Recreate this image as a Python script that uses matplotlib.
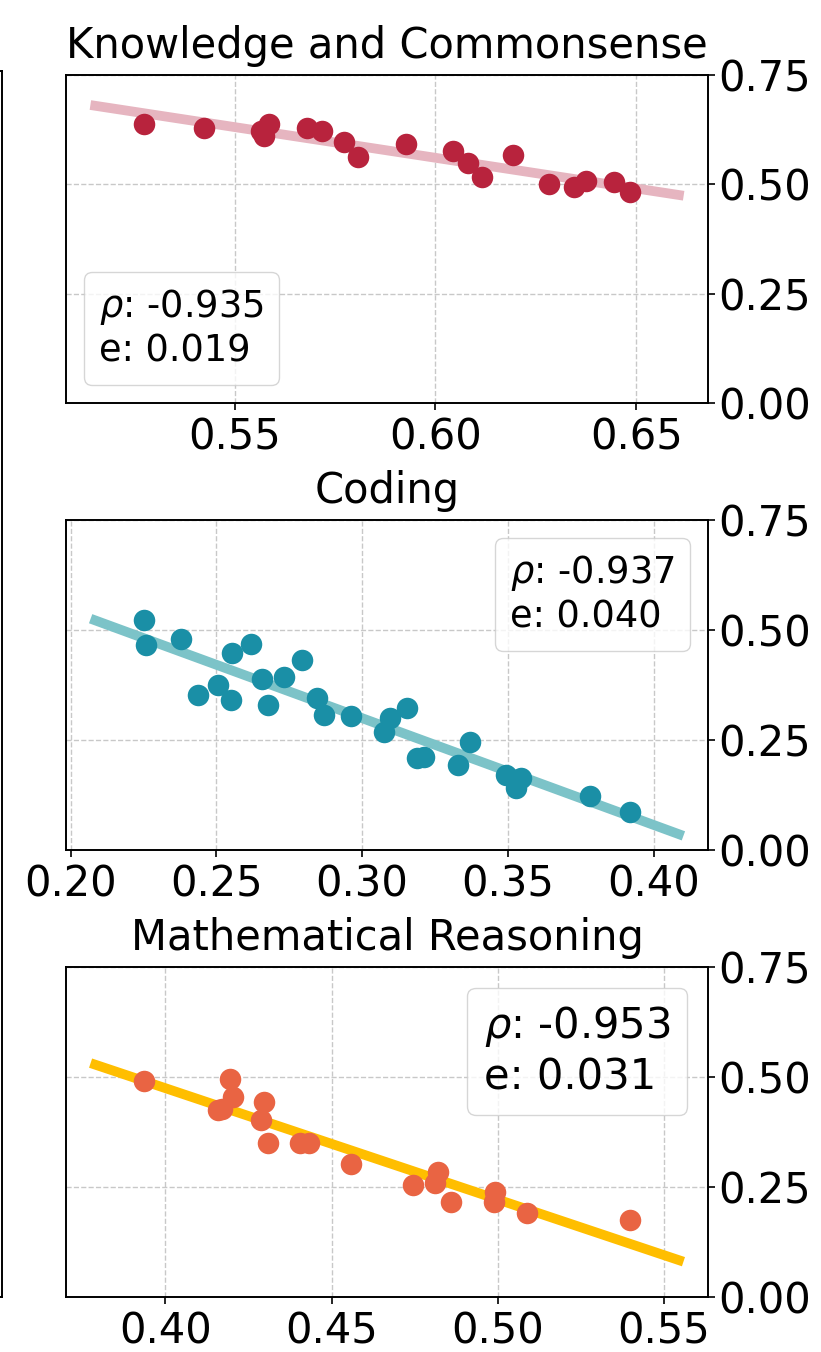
import numpy as np
import matplotlib
matplotlib.use('Agg')
import matplotlib.pyplot as plt
from matplotlib.lines import Line2D
from matplotlib.ticker import MultipleLocator

# knowledge and commonsense
know_x = [0.5274, 0.5424, 0.5565, 0.5572, 0.5585, 0.5680, 0.5718, 0.5772, 0.5807,
          0.5927, 0.6044, 0.6081, 0.6115, 0.6194, 0.6282, 0.6345, 0.6374, 0.6445, 0.6485]
know_y = [0.638, 0.630, 0.622, 0.610, 0.638, 0.630, 0.623, 0.596, 0.562,
          0.592, 0.577, 0.548, 0.516, 0.567, 0.500, 0.493, 0.508, 0.506, 0.483]

# coding
code_x = [0.2251, 0.2259, 0.2379, 0.2437, 0.2506, 0.2552, 0.2549, 0.2618, 0.2655,
          0.2678, 0.2732, 0.2793, 0.2845, 0.2868, 0.2963, 0.3075, 0.3095, 0.3155,
          0.3190, 0.3213, 0.3330, 0.3370, 0.3494, 0.3546, 0.3527, 0.3782, 0.3920]
code_y = [0.523, 0.466, 0.479, 0.352, 0.375, 0.448, 0.341, 0.468, 0.389,
          0.330, 0.393, 0.432, 0.346, 0.307, 0.305, 0.269, 0.299, 0.322,
          0.208, 0.212, 0.193, 0.246, 0.170, 0.163, 0.140, 0.123, 0.087]

# mathematical reasoning
math_x = [0.3935, 0.4194, 0.4204, 0.4159, 0.4169, 0.4298, 0.4288, 0.4308, 0.4406,
          0.4432, 0.4558, 0.4744, 0.4820, 0.4810, 0.4859, 0.4992, 0.4989, 0.5088, 0.5399]
math_y = [0.491, 0.496, 0.455, 0.424, 0.428, 0.443, 0.403, 0.349, 0.350,
          0.350, 0.302, 0.254, 0.284, 0.258, 0.215, 0.239, 0.216, 0.191, 0.174]

titles = ['Knowledge and Commonsense', 'Coding', 'Mathematical Reasoning']
rhos = ['-0.935', '-0.937', '-0.953']
errs = ['0.019', '0.040', '0.031']
point_colors = ['#b8233d', '#1a8fa6', '#e96443']
line_colors = ['#e6b5c0', '#7cc3c8', '#ffbe00']
legend_locs = ['lower left', 'upper right', 'upper right']
legend_sizes = [26.5, 26.5, 30]

fig = plt.figure(figsize=(8.21, 13.52), dpi=100)

# edge of the neighbouring panel
edge = fig.add_axes([-0.5, 0.0407, 0.5024, 0.9068])
edge.set_xticks([])
edge.set_yticks([])
for s in edge.spines.values():
    s.set_linewidth(1.4)

boxes = [[0.0804, 0.7019, 0.782, 0.2426],
         [0.0804, 0.3713, 0.782, 0.2441],
         [0.0804, 0.0407, 0.782, 0.2441]]
data = [(know_x, know_y), (code_x, code_y), (math_x, math_y)]

for i, (xs, ys) in enumerate(data):
    ax = fig.add_axes(boxes[i])
    xs = np.array(xs)
    ys = np.array(ys)
    k, b = np.polyfit(xs, ys, 1)
    r = xs.max() - xs.min()
    lx = np.linspace(xs.min() - 0.1 * r, xs.max() + 0.1 * r, 50)
    ax.plot(lx, k * lx + b, color=line_colors[i], lw=7, zorder=2)
    ax.scatter(xs, ys, s=240, color=point_colors[i], zorder=3, linewidths=0)
    ax.set_ylim(0, 0.75)
    ax.set_yticks([0, 0.25, 0.5, 0.75])
    ax.xaxis.set_major_locator(MultipleLocator(0.05))
    ax.yaxis.tick_right()
    ax.tick_params(labelsize=30, width=1.2, length=5)
    ax.tick_params(axis='x', pad=5)
    ax.tick_params(axis='y', pad=2)
    ax.grid(True, linestyle='--', color='#c8c8c8', linewidth=1)
    ax.set_axisbelow(True)
    for s in ax.spines.values():
        s.set_linewidth(1.4)
    ax.set_title(titles[i], fontsize=30, pad=12)
    lab = '$\\rho$: ' + rhos[i] + '\ne: ' + errs[i]
    ax.legend([Line2D([], [], linestyle='none')], [lab], loc=legend_locs[i],
              handlelength=0, handletextpad=0, fontsize=legend_sizes[i])

fig.savefig('out.png', dpi=100)
